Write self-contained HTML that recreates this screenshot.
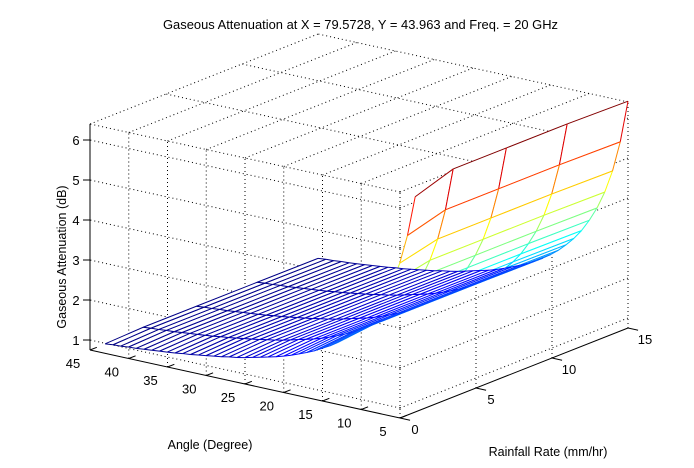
<!DOCTYPE html>
<html><head><meta charset="utf-8"><style>
html,body{margin:0;padding:0;background:#fff;}
svg{display:block;font-family:"Liberation Sans",Arial,sans-serif;}
</style></head><body>
<svg id="chart" width="694" height="468" viewBox="0 0 694 468" xmlns="http://www.w3.org/2000/svg">
<rect x="0" y="0" width="694" height="468" fill="#fff"/>
<g id="grid"></g>
<g id="surface"></g>
<g id="axes"></g>
<text x="163" y="29" font-size="13" textLength="395" lengthAdjust="spacingAndGlyphs">Gaseous Attenuation at X = 79.5728, Y = 43.963 and Freq. = 20 GHz</text>
<text x="210" y="449" font-size="12.5" text-anchor="middle">Angle (Degree)</text>
<text x="548" y="456" font-size="12.5" text-anchor="middle">Rainfall Rate (mm/hr)</text>
<text x="0" y="0" font-size="12.5" text-anchor="middle" transform="translate(66,257) rotate(-90)">Gaseous Attenuation (dB)</text>
</svg>
<script>
// ---- data ----
const angles = [5,6,7,8,9,10,11,12,13,14,15,16,17,18,19,20,21,22,23,24,25,26,27,28,29,30,31,32,33,34,35,36,37,38,39,40,41,42,43,44,45];
const rainRates = [1,3.5,7,11,15];
const baseAtten = [6.42,5.36,4.59,4.02,3.58,3.23,2.93,2.69,2.49,2.31,2.16,2.03,1.92,1.81,1.72,1.64,1.56,1.49,1.43,1.38,1.33,1.28,1.23,1.19,1.16,1.12,1.09,1.06,1.03,1.00,0.98,0.95,0.93,0.91,0.89,0.87,0.85,0.84,0.82,0.81,0.79];
const rainScale = [0.955,1.005,1.005,1.005,1.0];
const angleTicks = [5,10,15,20,25,30,35,40,45];
const rainTicks = [0,5,10,15];
const zTicks = [1,2,3,4,5,6];

const NS = "http://www.w3.org/2000/svg";
const aMin = 5, aMax = 45, rMin = 0, rMax = 15, zMin = 0.75, zMax = 6.4;
// axis functions
function px(a, r, z) { return 400 + (a - aMin) * (-310 / 40) + (r - rMin) * (228 / 15); }
function py(a, r, z) { return 418 + (a - aMin) * (-68 / 40) + (r - rMin) * (-90 / 15) - (z - zMin) * 40; }
function mk(tag, attrs, parent) {
  const e = document.createElementNS(NS, tag);
  for (const k in attrs) e.setAttribute(k, attrs[k]);
  parent.appendChild(e);
  return e;
}
function jet(t) {
  t = Math.max(0, Math.min(1, t));
  const c = v => Math.round(255 * Math.max(0, Math.min(1, v)));
  return "rgb(" + c(1.5 - Math.abs(4 * t - 3)) + "," + c(1.5 - Math.abs(4 * t - 2)) + "," + c(1.5 - Math.abs(4 * t - 1)) + ")";
}
const grid = document.getElementById("grid");
const surf = document.getElementById("surface");
const axes = document.getElementById("axes");
function dotted(a1, r1, z1, a2, r2, z2, name) {
  const l = mk("line", {x1: px(a1, r1, z1), y1: py(a1, r1, z1), x2: px(a2, r2, z2), y2: py(a2, r2, z2), stroke: "#000", "stroke-width": 1, "stroke-dasharray": "1,3"}, grid);
  
  
}
// top plane
angleTicks.forEach(a => dotted(a, rMin, zMax, a, rMax, zMax, 'gridline-top-angle'));
rainTicks.forEach(r => dotted(aMin, r, zMax, aMax, r, zMax, 'gridline-top-rain'));
// rain=0 plane
angleTicks.forEach(a => dotted(a, rMin, zMin, a, rMin, zMax, 'gridline-wall-angle'));
zTicks.forEach(z => dotted(aMin, rMin, z, aMax, rMin, z, 'gridline-wall-z'));
// angle=5 plane
rainTicks.forEach(r => dotted(aMin, r, zMin, aMin, r, zMax, 'gridline-wall-rain'));
zTicks.forEach(z => dotted(aMin, rMin, z, aMin, rMax, z, 'gridline-wall2-z'));

// surface values
const Z = angles.map((a, i) => rainRates.map((r, j) => baseAtten[i] * rainScale[j]));
let cMin = Infinity, cMax = -Infinity;
Z.forEach(row => row.forEach(v => { cMin = Math.min(cMin, v); cMax = Math.max(cMax, v); }));
const quads = [];
for (let i = 0; i < angles.length - 1; i++) {
  for (let j = 0; j < rainRates.length - 1; j++) {
    const am = (angles[i] + angles[i + 1]) / 2, rm = (rainRates[j] + rainRates[j + 1]) / 2;
    const zm = (Z[i][j] + Z[i + 1][j] + Z[i][j + 1] + Z[i + 1][j + 1]) / 4;
    const d = (am - aMin) / 40 + (rm - rMin) / 15 - 0.5 * (zm - zMin) / (zMax - zMin);
    quads.push({i, j, d});
  }
}
quads.sort((p, q) => p.d - q.d);
function edge(i1, j1, i2, j2, g) {
  const z1 = Z[i1][j1], z2 = Z[i2][j2];
  const l = mk("line", {x1: px(angles[i1], rainRates[j1], z1), y1: py(angles[i1], rainRates[j1], z1), x2: px(angles[i2], rainRates[j2], z2), y2: py(angles[i2], rainRates[j2], z2), stroke: jet(((z1 + z2) / 2 - cMin) / (cMax - cMin)), "stroke-width": 1}, g);
  
  
}
quads.forEach(q => {
  const {i, j} = q;
  const g = mk("g", {}, surf);
  
  
  const pts = [[i, j], [i + 1, j], [i + 1, j + 1], [i, j + 1]].map(([a, b]) => px(angles[a], rainRates[b], Z[a][b]).toFixed(2) + "," + py(angles[a], rainRates[b], Z[a][b]).toFixed(2)).join(" ");
  const p = mk("polygon", {points: pts, fill: "#fff", stroke: "none"}, g);
  
  
  edge(i, j, i + 1, j, g);
  edge(i + 1, j, i + 1, j + 1, g);
  edge(i + 1, j + 1, i, j + 1, g);
  edge(i, j + 1, i, j, g);
});

// axes lines
function solid(a1, r1, z1, a2, r2, z2, name) {
  const l = mk("line", {x1: px(a1, r1, z1), y1: py(a1, r1, z1), x2: px(a2, r2, z2), y2: py(a2, r2, z2), stroke: "#000", "stroke-width": 1}, axes);
  
  
}
solid(aMin, rMin, zMin, aMax, rMin, zMin, 'x-axis-line');
solid(aMin, rMin, zMin, aMin, rMax, zMin, 'y-axis-line');
solid(aMax, rMin, zMin, aMax, rMin, zMax, 'z-axis-line');
angleTicks.forEach(a => {
  solid(a, rMin, zMin, a, rMin + 0.45, zMin, 'x-tick');
  const t = mk("text", {x: px(a, rMin, zMin) - 17, y: py(a, rMin, zMin) + 18, "font-size": 13, "text-anchor": "middle"}, axes);
  t.textContent = a;
  
  
});
rainTicks.forEach(r => {
  solid(aMin, r, zMin, aMin - 1.3, r, zMin, 'y-tick');
  const t = mk("text", {x: px(aMin, r, zMin) + 13 + String(r).length * 2, y: py(aMin, r, zMin) + 16, "font-size": 13, "text-anchor": "middle"}, axes);
  t.textContent = r;
  
  
});
zTicks.forEach(z => {
  const x = px(aMax, rMin, z), y = py(aMax, rMin, z);
  const l = mk("line", {x1: x - 7, y1: y, x2: x, y2: y, stroke: "#000", "stroke-width": 1}, axes);
  
  
  const t = mk("text", {x: x - 14, y: y + 5, "font-size": 13, "text-anchor": "middle"}, axes);
  t.textContent = z;
  
  
});
</script>
</body></html>
